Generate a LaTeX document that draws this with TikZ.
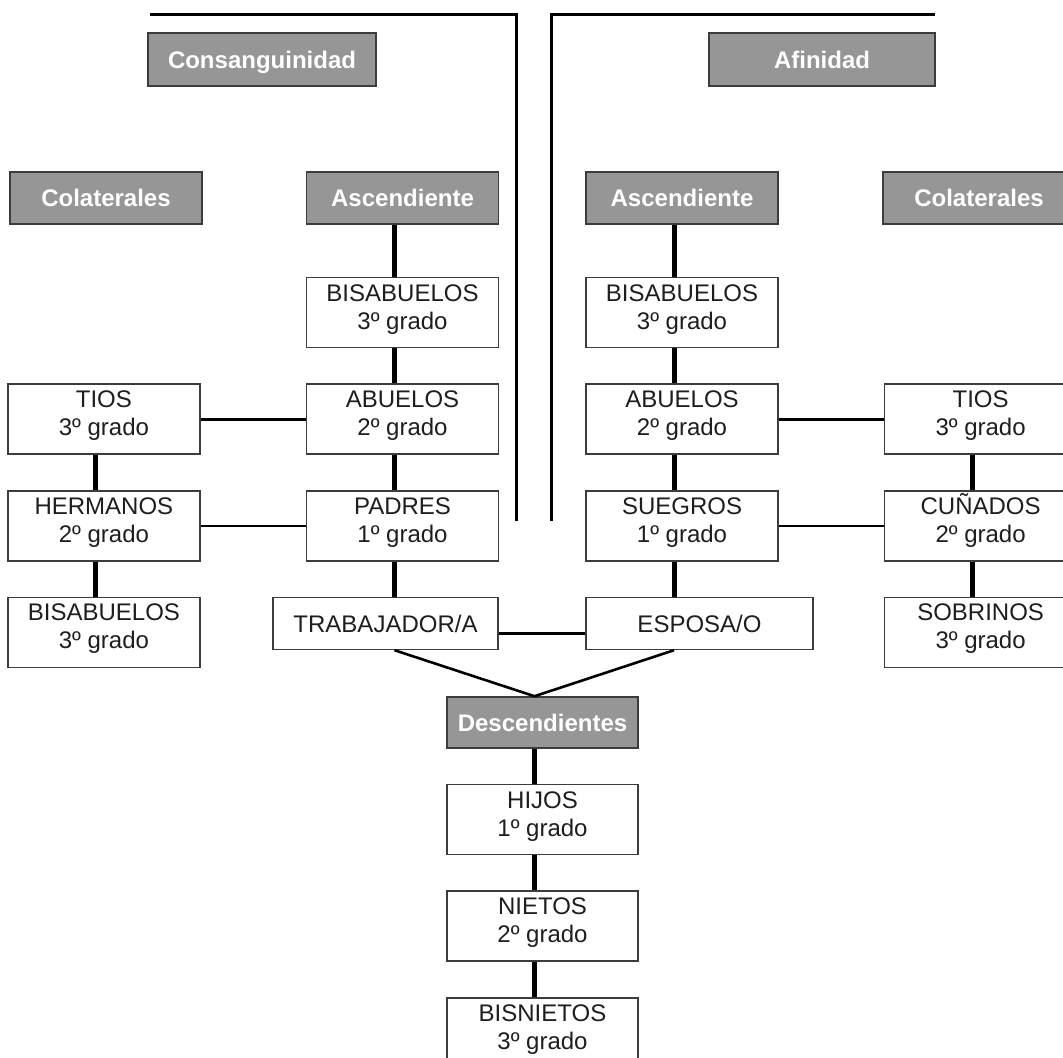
\documentclass[tikz,border=0pt]{standalone}
\usepackage{fontspec}
\setmainfont{Liberation Sans}
\usetikzlibrary{positioning}
\definecolor{hdrgray}{RGB}{150,150,150}
\definecolor{edgegray}{RGB}{60,60,60}
\definecolor{txtgray}{RGB}{30,30,30}
\tikzset{
  hdr/.style={draw=edgegray, line width=0.8pt, fill=hdrgray, text=white, font=\fontsize{12pt}{14pt}\selectfont\bfseries, minimum width=96pt, minimum height=26pt, inner sep=0pt, text height=8.6pt, text depth=0pt},
  pbox/.style={draw=edgegray, line width=0.8pt, fill=white, text=txtgray, align=center, font=\fontsize{12pt}{14pt}\selectfont, minimum width=96pt, minimum height=35pt, inner sep=0pt, execute at end node={\rule[-5.8pt]{0pt}{0pt}}},
  sline/.style={text height=8.6pt, text depth=0pt},
  vln/.style={line width=2.5pt},
  hln/.style={line width=1.3pt},
  frm/.style={line width=1.5pt},
}
\begin{document}
\begin{tikzpicture}[x=1pt, y=1pt, node distance=17.5pt]
\useasboundingbox (0,0) rectangle (531.5,-528.5);
% marco superior
\draw[frm] (75,-7) -- (258,-7) -- (258,-260.5);
\draw[frm] (275.5,-260.5) -- (275.5,-7) -- (467.5,-7);
% cabeceras
\node[hdr, minimum width=114pt, minimum height=26.5pt] (cons) at (131,-29.75) {Consanguinidad};
\node[hdr, minimum width=113pt, minimum height=26.5pt] (afin) at (411,-29.75) {Afinidad};
\node[hdr] (colL) at (53,-99) {Colaterales};
\node[hdr] (ascL) at (201.25,-99) {Ascendiente};
\node[hdr] (ascR) at (341,-99) {Ascendiente};
\node[hdr] (colR) at (489.5,-99) {Colaterales};
% consanguinidad
\node[pbox, below=26pt of ascL] (bisL) {BISABUELOS\\3º grado};
\node[pbox, below=of bisL] (abuL) {ABUELOS\\2º grado};
\node[pbox, below=of abuL] (padL) {PADRES\\1º grado};
\node[pbox, sline, below=of padL, xshift=-8.5pt, minimum width=112.5pt, minimum height=26pt] (trab) {TRABAJADOR/A};
\node[pbox, left=52.5pt of abuL] (tiosL) {TIOS\\3º grado};
\node[pbox, below=of tiosL] (herL) {HERMANOS\\2º grado};
\node[pbox, below=of herL] (bisLc) {BISABUELOS\\3º grado};
% afinidad
\node[pbox, below=26pt of ascR] (bisR) {BISABUELOS\\3º grado};
\node[pbox, below=of bisR] (abuR) {ABUELOS\\2º grado};
\node[pbox, below=of abuR] (sueR) {SUEGROS\\1º grado};
\node[pbox, sline, below=of sueR, xshift=8.75pt, minimum width=113.5pt, minimum height=26pt] (esp) {ESPOSA/O};
\node[pbox, right=52.5pt of abuR] (tiosR) {TIOS\\3º grado};
\node[pbox, below=of tiosR] (cunR) {CU\smash{Ñ}ADOS\\2º grado};
\node[pbox, below=of cunR] (sobR) {SOBRINOS\\3º grado};
% descendientes
\node[hdr, minimum width=95.5pt, minimum height=25.5pt] (desc) at (271.25,-361.25) {Descendientes};
\node[pbox, below=of desc, minimum width=95.5pt] (hijos) {HIJOS\\1º grado};
\node[pbox, below=of hijos, minimum width=95.5pt] (nietos) {NIETOS\\2º grado};
\node[pbox, below=of nietos, minimum width=95.5pt] (bisn) {BISNIETOS\\3º grado};
% conexiones
\foreach \a/\b in {ascL/bisL, bisL/abuL, abuL/padL, padL/trab, tiosL/herL, herL/bisLc,
                   ascR/bisR, bisR/abuR, abuR/sueR, sueR/esp, tiosR/cunR, cunR/sobR,
                   desc/hijos, hijos/nietos, nietos/bisn}
  \draw[vln] ([xshift=-4pt]\a.south) -- ([xshift=-4pt]\a.south |- \b.north);
\foreach \a/\b in {tiosL/abuL, herL/padL, abuR/tiosR, sueR/cunR}
  \draw[hln] (\a.east) -- (\b.west);
\draw[hln] ([yshift=-5pt]trab.east) -- ([yshift=-5pt]esp.west);
\draw[hln] ([xshift=-4pt]padL.south |- trab.south) -- ([xshift=-4pt]desc.north);
\draw[hln] ([xshift=-4pt]sueR.south |- esp.south) -- ([xshift=-4pt]desc.north);
\end{tikzpicture}
\end{document}
